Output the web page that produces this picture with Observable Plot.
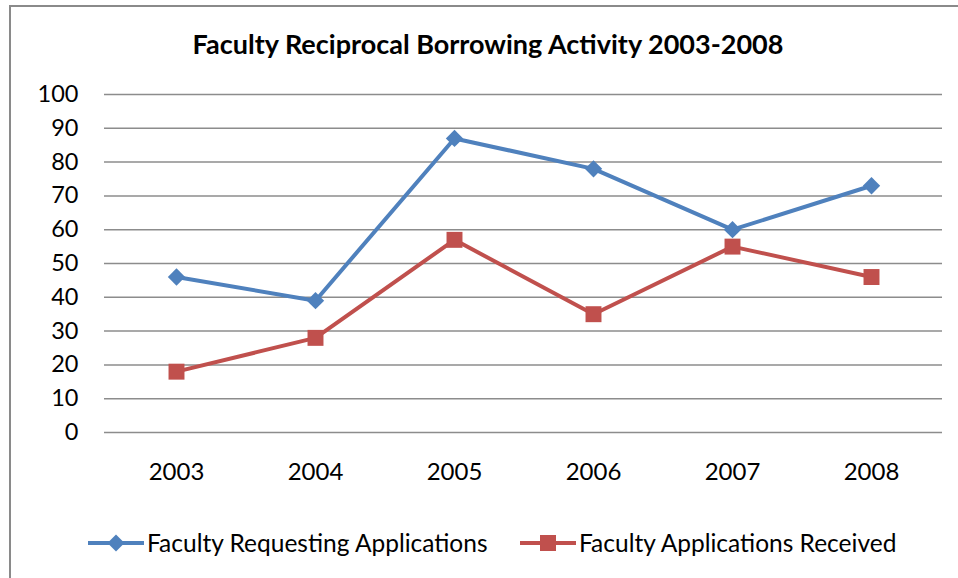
<!DOCTYPE html>
<html>
<head>
<meta charset="utf-8">
<script src="https://cdn.jsdelivr.net/npm/d3@7"></script>
<script src="https://cdn.jsdelivr.net/npm/@observablehq/plot@0.6"></script>
<style>
  html, body { margin: 0; padding: 0; background: #fff; }
  #wrap { position: relative; width: 958px; height: 578px; overflow: hidden; font-family: Lato, "Open Sans", sans-serif; }
  #frame { position: absolute; left: 9px; top: 5px; width: 960px; height: 590px; border-left: 2px solid #8a8a8a; border-top: 2px solid #8a8a8a; box-sizing: border-box; }
  #title { position: absolute; top: 27px; left: 0; width: 976px; text-align: center; font-weight: bold; font-size: 27px; color: #000; }
  #chart { position: absolute; left: 0; top: 0; }
  #legend { position: absolute; left: 0; top: 520px; }
</style>
</head>
<body>
<div id="wrap">
  <div id="frame"></div>
  <div id="title">Faculty Reciprocal Borrowing Activity 2003-2008</div>
  <div id="chart"></div>
  <svg id="legend" width="958" height="50"></svg>
</div>
<script>
const years = ["2003", "2004", "2005", "2006", "2007", "2008"];
const requesting = [46, 39, 87, 78, 60, 73];
const received = [18, 28, 57, 35, 55, 46];
const seriesNames = ["Faculty Requesting Applications", "Faculty Applications Received"];
const seriesColors = ["#4F81BD", "#C0504D"];
const yTicks = [0, 10, 20, 30, 40, 50, 60, 70, 80, 90, 100];

const data = [];
years.forEach((y, i) => {
  data.push({year: y, value: requesting[i], series: seriesNames[0]});
  data.push({year: y, value: received[i], series: seriesNames[1]});
});
const reqData = data.filter(d => d.series === seriesNames[0]);
const recData = data.filter(d => d.series === seriesNames[1]);

const plot = Plot.plot({
  width: 958,
  height: 500,
  marginTop: 94,
  marginBottom: 68,
  marginLeft: 104,
  marginRight: 16,
  style: {fontFamily: "Lato, 'Open Sans', sans-serif", fontSize: "23.5px", color: "#000", background: "transparent"},
  x: {type: "point", domain: years, padding: 0.5, label: null, tickSize: 0, tickPadding: 30},
  y: {domain: [0, 100], ticks: yTicks, label: null, tickSize: 0, tickPadding: 26},
  marks: [
    Plot.gridY(yTicks, {stroke: "#8c8c8c", strokeOpacity: 1, strokeWidth: 1.5}),
    Plot.axisX({tickSize: 0, tickPadding: 30, label: null, fontSize: 24}),
    Plot.axisY(yTicks, {tickSize: 0, tickPadding: 26, label: null}),
    Plot.line(reqData, {x: "year", y: "value", stroke: seriesColors[0], strokeWidth: 4}),
    Plot.line(recData, {x: "year", y: "value", stroke: seriesColors[1], strokeWidth: 4}),
    Plot.dot(reqData, {x: "year", y: "value", symbol: "diamond2", r: 7.8, fill: seriesColors[0], stroke: "none"}),
    Plot.dot(recData, {x: "year", y: "value", symbol: "square", r: 9, fill: seriesColors[1], stroke: "none"})
  ]
});
document.getElementById("chart").appendChild(plot);

// Legend
const leg = d3.select("#legend");
const items = [
  {name: seriesNames[0], color: seriesColors[0], x: 88, sym: "diamond"},
  {name: seriesNames[1], color: seriesColors[1], x: 520, sym: "square"}
];
const cy = 23;
items.forEach(it => {
  const g = leg.append("g");
  g.append("line").attr("x1", it.x).attr("x2", it.x + 56).attr("y1", cy).attr("y2", cy)
    .attr("stroke", it.color).attr("stroke-width", 4);
  const mx = it.x + 28;
  if (it.sym === "diamond") {
    g.append("path").attr("d", `M${mx},${cy-8.5}L${mx+8.5},${cy}L${mx},${cy+8.5}L${mx-8.5},${cy}Z`).attr("fill", it.color);
  } else {
    g.append("rect").attr("x", mx - 8).attr("y", cy - 8).attr("width", 16).attr("height", 16).attr("fill", it.color);
  }
  g.append("text").attr("x", it.x + 59).attr("y", cy).attr("dy", "0.35em")
    .attr("font-family", "Lato, 'Open Sans', sans-serif").attr("font-size", 24.5).attr("fill", "#000")
    .text(it.name);
});
</script>
</body>
</html>
